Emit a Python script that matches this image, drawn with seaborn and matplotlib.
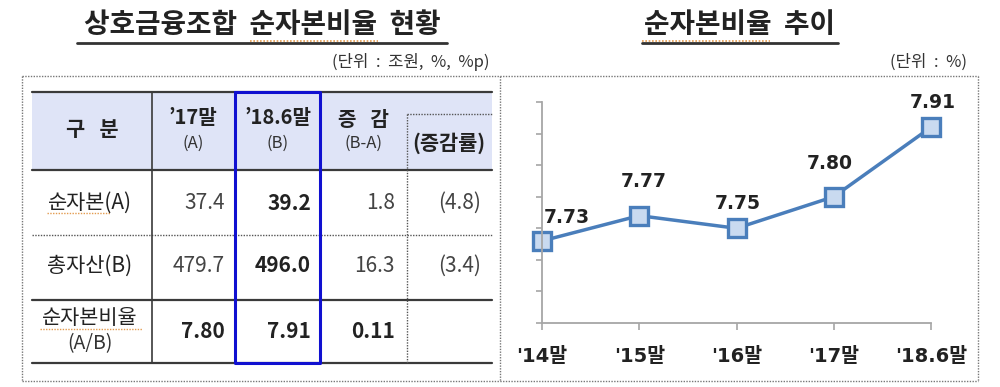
import numpy as np
import matplotlib
matplotlib.use("Agg")
import matplotlib.pyplot as plt
import seaborn as sns

# ---------------- data ----------------
periods = ["'14말", "'15말", "'16말", "'17말", "'18.6말"]
ratio = [7.73, 7.77, 7.75, 7.80, 7.91]

row_labels = ["순자본(A)", "총자산(B)", "순자본비율\n(A/B)"]
col_17 = ["37.4", "479.7", "7.80"]
col_18 = ["39.2", "496.0", "7.91"]
col_diff = ["1.8", "16.3", "0.11"]
col_rate = ["(4.8)", "(3.4)", ""]

left_title = "상호금융조합  순자본비율  현황"
right_title = "순자본비율  추이"
left_unit = "(단위  :  조원,  %,  %p)"
right_unit = "(단위  :  %)"

sns.set_theme(style="white")
KR = ["Noto Sans CJK KR", "DejaVu Sans"]
LAT = ["DejaVu Sans", "Noto Sans CJK KR"]
plt.rcParams["font.family"] = KR

W, H = 1000, 387
fig = plt.figure(figsize=(W / 100, H / 100), dpi=100)
fig.patch.set_facecolor("white")

# overlay axes in pixel coordinates for titles / table
bg = fig.add_axes([0, 0, 1, 1])
bg.set_xlim(0, W)
bg.set_ylim(H, 0)
bg.axis("off")

dark = "#222222"
txt = "#333333"
orange = "#e39b4f"

# titles
bg.text(262, 25, left_title, ha="center", va="center", fontsize=20,
        fontweight="bold", color=dark)
bg.plot([77, 447], [43, 43], color="#333333", lw=2)
bg.plot([250, 378], [41, 41], color=orange, lw=1.2, ls=(0, (1, 1)))
bg.text(740, 25, right_title, ha="center", va="center", fontsize=20,
        fontweight="bold", color=dark)
bg.plot([642, 838], [43, 43], color="#333333", lw=2)
bg.plot([642, 770], [41, 41], color=orange, lw=1.2, ls=(0, (1, 1)))

bg.text(489, 62, left_unit, ha="right", va="center", fontsize=12, color=txt)
bg.text(967, 62, right_unit, ha="right", va="center", fontsize=12, color=txt)

# dotted panel borders
dot = dict(color="#777777", lw=1.0, ls=(0, (1, 1)))
bg.plot([22, 978], [76, 76], **dot)
bg.plot([22, 978], [381, 381], **dot)
bg.plot([22, 22], [76, 381], **dot)
bg.plot([500, 500], [76, 381], **dot)
bg.plot([978, 978], [76, 381], **dot)

# ---------------- table ----------------
x0, x1, xb0, xb1, xd, x5 = 32, 152, 235, 320, 407, 492
yt, yh, y1, y2, yb = 92, 170, 235, 300, 363
bg.fill_between([x0, x5], yt, yh, color="#dfe4f7", lw=0)
line = "#3a3a3a"
for yy in (yt, yh, y2, yb):
    bg.plot([x0, x5], [yy, yy], color=line, lw=1.6)
bg.plot([x0, x5], [y1, y1], color="#555555", lw=1.0, ls=(0, (1, 1)))
bg.plot([x1, x1], [yt, yb], color=line, lw=1.2)
bg.plot([xd, xd], [114, yb], color="#555555", lw=1.0, ls=(0, (1, 1)))
bg.plot([xd, x5], [114, 114], color="#555555", lw=1.0, ls=(0, (1, 1)))
bg.plot([xb0, xb1, xb1, xb0, xb0], [yt, yt, yb, yb, yt], color="#1010d0", lw=2.2)

# header
bg.text(92, 129, "구   분", ha="center", va="center", fontsize=15, fontweight="bold", color=dark)
bg.text(193, 117, "’17말", ha="center", va="center", fontsize=14.5, fontweight="bold", color=dark)
bg.text(193, 143, "(A)", ha="center", va="center", fontsize=12, color=txt)
bg.text(278, 117, "’18.6말", ha="center", va="center", fontsize=14.5, fontweight="bold", color=dark)
bg.text(278, 143, "(B)", ha="center", va="center", fontsize=12, color=txt)
bg.text(363, 120, "증   감", ha="center", va="center", fontsize=14.5, fontweight="bold", color=dark)
bg.text(363, 143, "(B-A)", ha="center", va="center", fontsize=12, color=txt)
bg.text(449, 143, "(증감률)", ha="center", va="center", fontsize=15, fontweight="bold", color=dark)

row_y = [203, 266, 331]
for i, lab in enumerate(row_labels):
    if "\n" in lab:
        a, b = lab.split("\n")
        bg.text(90, 318, a, ha="center", va="center", fontsize=15, color=dark)
        bg.text(90, 344, b, ha="center", va="center", fontsize=14, color=txt)
        bg.plot([40, 142], [329, 329], color=orange, lw=1.0, ls=(0, (1, 1)))
    else:
        bg.text(90, row_y[i], lab, ha="center", va="center", fontsize=15, color=dark)
    bold = (i == 2)
    bg.text(225, row_y[i], col_17[i], ha="right", va="center", fontsize=15,
            fontweight="bold" if bold else "normal", color=dark if bold else "#444444")
    bg.text(311, row_y[i], col_18[i], ha="right", va="center", fontsize=15,
            fontweight="bold", color=dark)
    bg.text(395, row_y[i], col_diff[i], ha="right", va="center", fontsize=15,
            fontweight="bold" if bold else "normal", color=dark if bold else "#444444")
    if col_rate[i]:
        bg.text(481, row_y[i], col_rate[i], ha="right", va="center", fontsize=15, color="#444444")
bg.plot([47, 110], [213, 213], color=orange, lw=1.0, ls=(0, (1, 1)))

# ---------------- line chart ----------------
ax = fig.add_axes([0.542, 1 - 323 / H, (931 - 542) / W, (323 - 102) / H])
ax.patch.set_alpha(0)
line_c = "#4a7ebb"
sns.lineplot(x=periods, y=ratio, ax=ax, sort=False, color=line_c, lw=2.5,
             marker="s", markersize=12.5, markerfacecolor="#c9daf0",
             markeredgecolor=line_c, markeredgewidth=2.4)
for ln in ax.lines:
    ln.set_clip_on(False)
ax.set_xlim(0, len(periods) - 1)
ax.set_ylim(7.60, 7.95)
ax.set_yticks(np.arange(7.60, 7.951, 0.05))
ax.set_yticklabels([])
ax.set_xticks(range(len(periods)))
ax.set_xticklabels(periods, fontsize=14, fontweight="bold", color=dark, family=LAT)
ax.set_xlabel("")
ax.set_ylabel("")
for s in ("top", "right"):
    ax.spines[s].set_visible(False)
for s in ("left", "bottom"):
    ax.spines[s].set_color("#a6a6a6")
    ax.spines[s].set_linewidth(1.3)
ax.tick_params(axis="y", direction="out", length=4, width=1.2, color="#a6a6a6", left=True)
ax.tick_params(axis="x", direction="out", length=5, width=1.2, color="#a6a6a6", pad=12, bottom=True)
ax.grid(False)

offsets = [(25, 23), (4, 34), (1, 25), (-4, 33), (2, 25)]
for i, v in enumerate(ratio):
    ax.annotate(f"{v:.2f}", (i, v), xytext=offsets[i], textcoords="offset pixels",
                ha="center", va="center", fontsize=13.5, fontweight="bold",
                color=dark, family=LAT, annotation_clip=False)

fig.savefig("out.png", dpi=100, facecolor="white")
